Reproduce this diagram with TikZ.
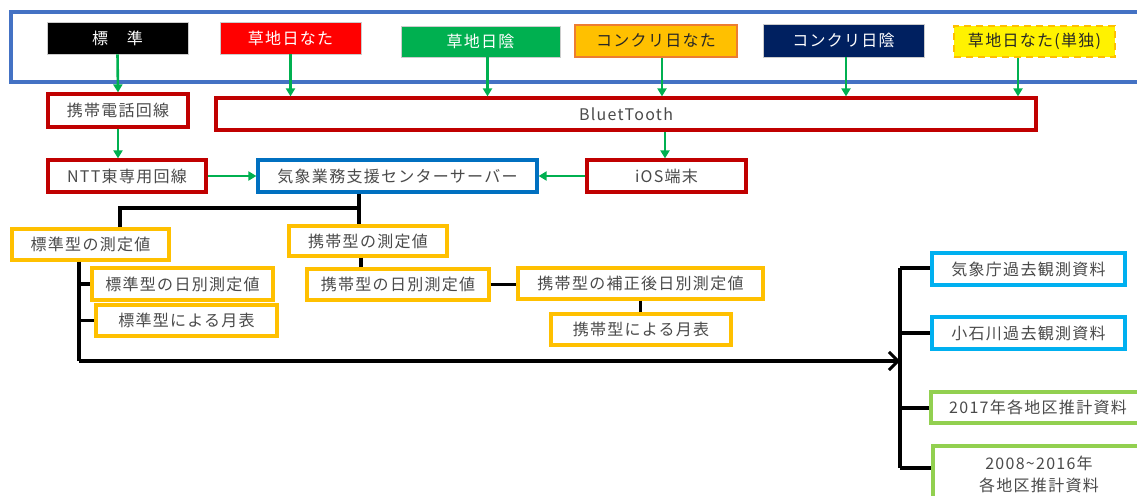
\documentclass[tikz,border=0pt]{standalone}
\usepackage{fontspec}
\setmainfont{Noto Sans CJK JP}[LetterSpace=8]
\usetikzlibrary{arrows.meta}
\definecolor{outerblue}{HTML}{4472C4}
\definecolor{dred}{HTML}{C00000}
\definecolor{srvblue}{HTML}{0070C0}
\definecolor{gold}{HTML}{FFC000}
\definecolor{ltblue}{HTML}{00B0F0}
\definecolor{ltgreen}{HTML}{92D050}
\definecolor{grn}{HTML}{00B050}
\definecolor{navy}{HTML}{002060}
\definecolor{orng}{HTML}{ED7D31}
\definecolor{txt}{HTML}{4A4A4A}
\tikzset{
  lbl/.style={inner sep=0pt, font=\fontsize{16}{19}\selectfont, text=txt},
  topbox/.style={lbl, text=white, draw=black!20, line width=0.6pt},
  redbox/.style={lbl, draw=dred, line width=3.2pt, fill=white},
  bluebox/.style={lbl, draw=srvblue, line width=3.2pt, fill=white},
  goldbox/.style={lbl, draw=gold, line width=3.2pt, fill=white},
  cyanbox/.style={lbl, draw=ltblue, line width=3.2pt, fill=white},
  greenbox/.style={lbl, draw=ltgreen, line width=3.2pt, fill=white},
  garrow/.style={draw=grn, line width=2.6pt, -{Triangle[length=8pt,width=9pt]}},
  tree/.style={draw=black, line width=3.4pt},
}
\begin{document}
\begin{tikzpicture}[x=1pt,y=-1pt]
\useasboundingbox (0,0) rectangle (1137,495);
\clip (0,0) rectangle (1137,495);
% outer blue frame
\draw[outerblue, line width=3.4pt] (11,12) rectangle (1160,82);
% top sensor boxes
\node[topbox, fill=black, minimum width=141pt, minimum height=32pt] (std) at (117.5,38) {標　準};
\node[topbox, fill=red, minimum width=141pt, minimum height=32pt] (sgs) at (290.5,38) {草地日なた};
\node[topbox, fill=grn, minimum width=159pt, minimum height=31pt] (sgk) at (480.5,41.5) {草地日陰};
\node[lbl, text=black!85, fill=gold, draw=orng, line width=2.6pt, minimum width=162pt, minimum height=32pt] (cs) at (656,41) {コンクリ日なた};
\node[topbox, fill=navy, minimum width=161pt, minimum height=33pt] (ck) at (843.5,40.5) {コンクリ日陰};
\node[lbl, text=black!85, fill=yellow, draw=gold, dashed, dash pattern=on 7pt off 5pt, line width=2.8pt, minimum width=161pt, minimum height=31pt] (single) at (1034.5,41.5) {草地日なた(単独)};
% communication
\node[redbox, minimum width=140pt, minimum height=33pt] (mob) at (118,110.5) {携帯電話回線};
\node[redbox, minimum width=820pt, minimum height=32pt] (bt) at (626,114) {BluetTooth};
\node[redbox, minimum width=158pt, minimum height=32pt] (ntt) at (127,176) {NTT東専用回線};
\node[bluebox, minimum width=279pt, minimum height=32pt] (srv) at (397.5,176) {気象業務支援センターサーバー};
\node[redbox, minimum width=159pt, minimum height=32pt] (ios) at (666.5,176) {iOS端末};
% measurement boxes
\node[goldbox, minimum width=157pt, minimum height=31pt] (sm) at (90.5,244.5) {標準型の測定値};
\node[goldbox, minimum width=158pt, minimum height=30pt] (km) at (368,241) {携帯型の測定値};
\node[goldbox, minimum width=181pt, minimum height=32pt] (sd) at (182.5,284) {標準型の日別測定値};
\node[goldbox, minimum width=181pt, minimum height=31pt] (sg) at (186.5,320.5) {標準型による月表};
\node[goldbox, minimum width=182pt, minimum height=31pt] (kd) at (398,284.5) {携帯型の日別測定値};
\node[goldbox, minimum width=245pt, minimum height=31pt] (kh) at (640.5,283.5) {携帯型の補正後日別測定値};
\node[goldbox, minimum width=180pt, minimum height=31pt] (kg) at (641,329.5) {携帯型による月表};
% right side
\node[cyanbox, minimum width=193pt, minimum height=32pt] (jma) at (1028.5,269) {気象庁過去観測資料};
\node[cyanbox, minimum width=193pt, minimum height=32pt] (koi) at (1028.5,333) {小石川過去観測資料};
\node[greenbox, minimum width=214pt, minimum height=31pt] (e17) at (1038,407.5) {2017年各地区推計資料};
\node[greenbox, minimum width=212pt, minimum height=56pt, align=center] (e08) at (1039,474) {2008\char`\~2016年\\[3pt]各地区推計資料};
% green arrows
\draw[garrow] (std.south) -- (mob.north);
\draw[garrow] (sgs.south) -- (sgs.south |- bt.north);
\draw[garrow] ([xshift=7pt]sgk.south) -- ([xshift=7pt]sgk.south |- bt.north);
\draw[garrow] ([xshift=6pt]cs.south) -- ([xshift=6pt]cs.south |- bt.north);
\draw[garrow] ([xshift=2.5pt]ck.south) -- ([xshift=2.5pt]ck.south |- bt.north);
\draw[garrow] ([xshift=-16.5pt]single.south) -- ([xshift=-16.5pt]single.south |- bt.north);
\draw[garrow] (mob.south) -- (mob.south |- ntt.north);
\draw[garrow] (ntt.east) -- (srv.west);
\draw[garrow] ([xshift=39pt]bt.south) -- ([xshift=39pt]bt.south |- ios.north);
\draw[garrow] (ios.west) -- (srv.east);
% tree
\coordinate (j1) at (359,208);
\coordinate (j2) at (120,208);
\draw[tree] (srv.south -| j1) -- (km.north -| j1);
\draw[tree] (j1) -- (j2) -- (j2 |- sm.north);
\coordinate (j3) at (79,361);
\coordinate (tr) at (900,361);
\draw[tree] (j3 |- sm.south) -- (j3);
\draw[tree, -{Straight Barb[length=9pt,width=18pt,line width=3pt]}] (j3) -- (tr);
\draw[tree] (j3 |- sd.west) -- (sd.west);
\draw[tree] (j3 |- sg.west) -- (sg.west);
\coordinate (j4) at (361,0);
\draw[tree] (j4 |- km.south) -- (j4 |- kd.north);
\draw[tree] (kd.east) -- (kd.east -| kh.west);
\draw[tree] (kh.south) -- (kh.south |- kg.north);
\coordinate (tt) at (900,268);
\coordinate (tb) at (900,468);
\draw[tree] (tt) -- (tb);
\draw[tree] (tt) -- (tt -| jma.west);
\draw[tree] (900,333) coordinate (b2) -- (b2 -| koi.west);
\draw[tree] (900,408) coordinate (b3) -- (b3 -| e17.west);
\draw[tree] (tb) -- (tb -| e08.west);
\end{tikzpicture}
\end{document}
